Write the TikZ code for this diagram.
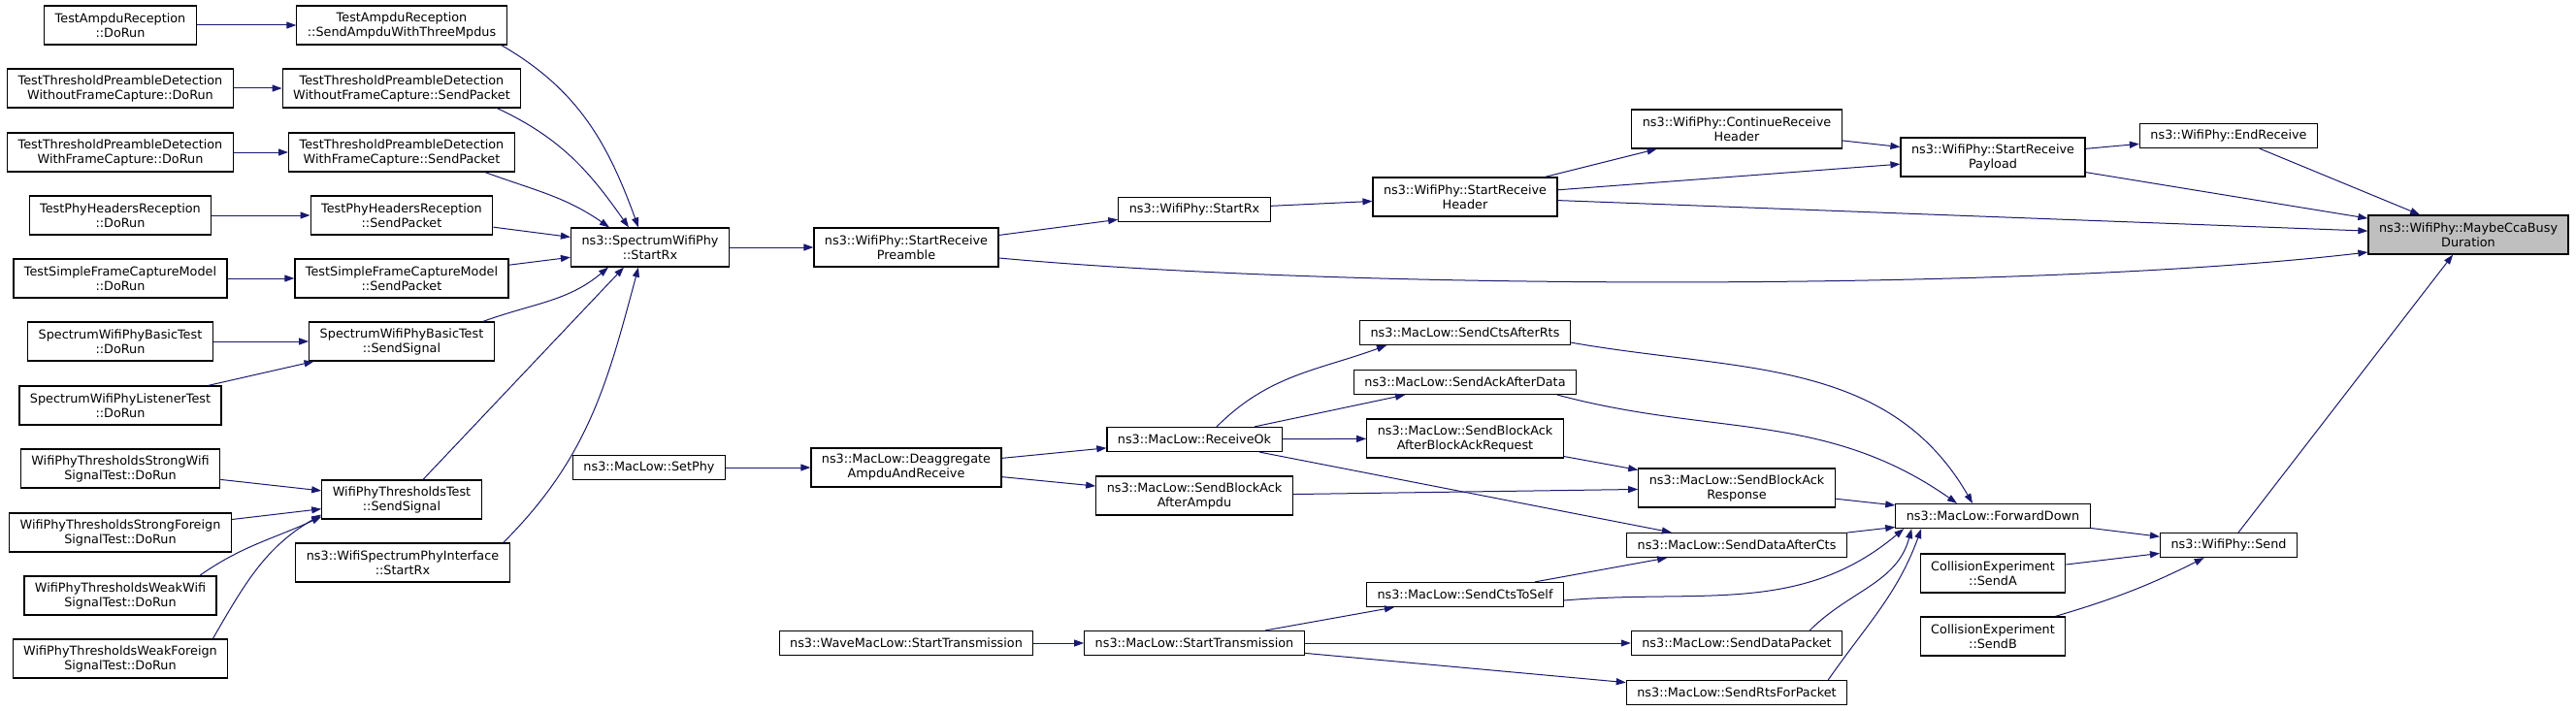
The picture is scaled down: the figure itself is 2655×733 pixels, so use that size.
\documentclass[tikz,border=0pt]{standalone}
\usepackage{fontspec}
\setmainfont{DejaVu Sans}
\usepackage{tikz}
\usetikzlibrary{arrows.meta,positioning,calc}
\definecolor{edgeblue}{HTML}{191970}
\definecolor{curgray}{HTML}{BFBFBF}

\begin{document}
\begin{tikzpicture}[
  x=0.5pt,y=-0.5pt,
  font=\fontsize{6.4pt}{7.5pt}\selectfont,>={Triangle[length=5pt,width=3.5pt]},
  fn/.style={draw,line width=0.6pt,fill=white,align=center,inner xsep=5.5pt,inner ysep=1pt,minimum height=12.5pt},
  fn2/.style={fn,minimum height=20pt},
  ln/.style={->,edgeblue,line width=0.5pt}
]
\useasboundingbox (0,0) rectangle (2655,733);
% test callers
\node[fn2] (ampduRun) at (124,26) {TestAmpduReception\\::DoRun};
\node[fn2] (ampduSend) at (414,26) {TestAmpduReception\\::SendAmpduWithThreeMpdus};
\node[fn2] (woRun) at (124,91) {TestThresholdPreambleDetection\\WithoutFrameCapture::DoRun};
\node[fn2] (woSend) at (414,91) {TestThresholdPreambleDetection\\WithoutFrameCapture::SendPacket};
\node[fn2] (wRun) at (124,157) {TestThresholdPreambleDetection\\WithFrameCapture::DoRun};
\node[fn2] (wSend) at (414,157) {TestThresholdPreambleDetection\\WithFrameCapture::SendPacket};
\node[fn2] (hdrRun) at (124,222) {TestPhyHeadersReception\\::DoRun};
\node[fn2] (hdrSend) at (414,222) {TestPhyHeadersReception\\::SendPacket};
\node[fn2] (sfcRun) at (124,287) {TestSimpleFrameCaptureModel\\::DoRun};
\node[fn2] (sfcSend) at (414,287) {TestSimpleFrameCaptureModel\\::SendPacket};
\node[fn2] (basicRun) at (124,352) {SpectrumWifiPhyBasicTest\\::DoRun};
\node[fn2] (basicSig) at (414,352) {SpectrumWifiPhyBasicTest\\::SendSignal};
\node[fn2] (listRun) at (124,418) {SpectrumWifiPhyListenerTest\\::DoRun};
\node[fn2] (swRun) at (124,483) {WifiPhyThresholdsStrongWifi\\SignalTest::DoRun};
\node[fn2] (sfRun) at (124,549) {WifiPhyThresholdsStrongForeign\\SignalTest::DoRun};
\node[fn2] (wwRun) at (124,614) {WifiPhyThresholdsWeakWifi\\SignalTest::DoRun};
\node[fn2] (wfRun) at (124,679) {WifiPhyThresholdsWeakForeign\\SignalTest::DoRun};
\node[fn2] (thrSig) at (414,515) {WifiPhyThresholdsTest\\::SendSignal};
\node[fn2] (ifRx) at (415,580) {ns3::WifiSpectrumPhyInterface\\::StartRx};
% phy and mac
\node[fn2] (specRx) at (670,255) {ns3::SpectrumWifiPhy\\::StartRx};
\node[fn] (setPhy) at (669,482) {ns3::MacLow::SetPhy};
\node[fn2] (preamble) at (934,255) {ns3::WifiPhy::StartReceive\\Preamble};
\node[fn2] (deagg) at (934,482) {ns3::MacLow::Deaggregate\\AmpduAndReceive};
\node[fn] (waveTx) at (934,663) {ns3::WaveMacLow::StartTransmission};
\node[fn] (phyRx) at (1231,216) {ns3::WifiPhy::StartRx};
\node[fn] (rxOk) at (1231,453) {ns3::MacLow::ReceiveOk};
\node[fn2] (baAmpdu) at (1231,511) {ns3::MacLow::SendBlockAck\\AfterAmpdu};
\node[fn] (macTx) at (1231,663) {ns3::MacLow::StartTransmission};
\node[fn2] (rxHdr) at (1510,203) {ns3::WifiPhy::StartReceive\\Header};
\node[fn] (ctsRts) at (1510,343) {ns3::MacLow::SendCtsAfterRts};
\node[fn] (ackData) at (1510,394) {ns3::MacLow::SendAckAfterData};
\node[fn2] (baReq) at (1510,452) {ns3::MacLow::SendBlockAck\\AfterBlockAckRequest};
\node[fn] (ctsSelf) at (1510,613) {ns3::MacLow::SendCtsToSelf};
\node[fn2] (contHdr) at (1790,133) {ns3::WifiPhy::ContinueReceive\\Header};
\node[fn2] (baResp) at (1790,503) {ns3::MacLow::SendBlockAck\\Response};
\node[fn] (dataCts) at (1790,562) {ns3::MacLow::SendDataAfterCts};
\node[fn] (dataPkt) at (1790,663) {ns3::MacLow::SendDataPacket};
\node[fn] (rtsPkt) at (1790,714) {ns3::MacLow::SendRtsForPacket};
\node[fn2] (rxPay) at (2054,162) {ns3::WifiPhy::StartReceive\\Payload};
\node[fn] (fwd) at (2054,532) {ns3::MacLow::ForwardDown};
\node[fn2] (sendA) at (2054,591) {CollisionExperiment\\::SendA};
\node[fn2] (sendB) at (2054,656) {CollisionExperiment\\::SendB};
\node[fn] (endRx) at (2297,140) {ns3::WifiPhy::EndReceive};
\node[fn] (phySend) at (2297,562) {ns3::WifiPhy::Send};
\node[fn2,fill=curgray] (cca) at (2544,242) {ns3::WifiPhy::MaybeCcaBusy\\Duration};

% test callers -> senders
\draw[ln] (ampduRun) -- (ampduSend);
\draw[ln] (woRun) -- (woSend);
\draw[ln] (wRun) -- (wSend);
\draw[ln] (hdrRun) -- (hdrSend);
\draw[ln] (sfcRun) -- (sfcSend);
\draw[ln] (basicRun) -- (basicSig);
\draw[ln] (listRun) -- (basicSig);
\draw[ln] (swRun) -- (thrSig);
\draw[ln] (sfRun) -- (thrSig);
\draw[ln] ($(wwRun.north east)+(-18,0)$) to[out=35,in=-155] ($(thrSig.south west)+(0,-3)$);
\draw[ln] ($(wfRun.north east)+(-16,0)$) to[out=60,in=-150] ($(thrSig.south west)+(0,-5)$);
% senders -> SpectrumWifiPhy::StartRx
\draw[ln] ($(ampduSend.south east)+(-6,0)$) to[out=-30,in=110] ($(specRx.north)+(-12,0)$);
\draw[ln] ($(woSend.south east)+(-25,0)$) to[out=-25,in=125] ($(specRx.north)+(-22,0)$);
\draw[ln] ($(wSend.south east)+(-31,0)$) to[out=-20,in=145] ($(specRx.north)+(-42,0)$);
\draw[ln] (hdrSend) -- (specRx);
\draw[ln] (sfcSend) -- (specRx);
\draw[ln] ($(basicSig.north east)+(-12,0)$) to[out=20,in=-140] ($(specRx.south)+(-43,0)$);
\draw[ln] ($(thrSig.north)+(22,0)$) -- ($(specRx.south)+(-27,0)$);
\draw[ln] ($(ifRx.north east)+(-7,0)$) to[out=45,in=-105] ($(specRx.south)+(-12,0)$);
% phy chain
\draw[ln] (specRx) -- (preamble);
\draw[ln] (preamble) -- (phyRx);
\draw[ln] ($(preamble.east)+(0,11)$) .. controls (1400,300) and (2100,300) .. ($(cca.west)+(0,18)$);
\draw[ln] (phyRx) -- (rxHdr);
\draw[ln] (rxHdr) -- (contHdr);
\draw[ln] (rxHdr) -- (rxPay);
\draw[ln] (rxHdr) -- (cca);
\draw[ln] (contHdr) -- (rxPay);
\draw[ln] (rxPay) -- (endRx);
\draw[ln] (rxPay) -- (cca);
\draw[ln] (endRx) -- (cca);
\draw[ln] (phySend) -- (cca);
% mac chain
\draw[ln] (setPhy) -- (deagg);
\draw[ln] (deagg) -- (rxOk);
\draw[ln] (deagg) -- (baAmpdu);
\draw[ln] ($(rxOk.north)+(23,0)$) to[out=45,in=-160] ($(ctsRts.south west)+(28,0)$);
\draw[ln] (rxOk) -- (ackData);
\draw[ln] (rxOk) -- (baReq);
\draw[ln] (rxOk) -- (dataCts);
\draw[ln] (baAmpdu) -- (baResp);
\draw[ln] (baReq) -- (baResp);
\draw[ln] ($(ctsRts.south east)+(0,-3)$) to[out=-10,in=120] ($(fwd.north)+(-21,0)$);
\draw[ln] ($(ackData.south east)+(-20,0)$) to[out=-15,in=145] ($(fwd.north)+(-37,0)$);
\draw[ln] (baResp) -- (fwd);
\draw[ln] (dataCts) -- (fwd);
\draw[ln] (ctsSelf) -- (dataCts);
\draw[ln] ($(ctsSelf.east)+(0,6)$) to[out=5,in=-140] ($(fwd.south west)+(9,0)$);
\draw[ln] (waveTx) -- (macTx);
\draw[ln] (macTx) -- (ctsSelf);
\draw[ln] (macTx) -- (dataPkt);
\draw[ln] (macTx) -- (rtsPkt);
\draw[ln] ($(dataPkt.north east)+(-34,0)$) to[out=45,in=-105] ($(fwd.south west)+(17,0)$);
\draw[ln] ($(rtsPkt.north east)+(-20,0)$) to[out=55,in=-110] ($(fwd.south west)+(27,0)$);
\draw[ln] (fwd) -- (phySend);
\draw[ln] (sendA) -- (phySend);
\draw[ln] ($(sendB.north east)+(-11,0)$) to[bend right=5] (phySend);
\end{tikzpicture}
\end{document}
